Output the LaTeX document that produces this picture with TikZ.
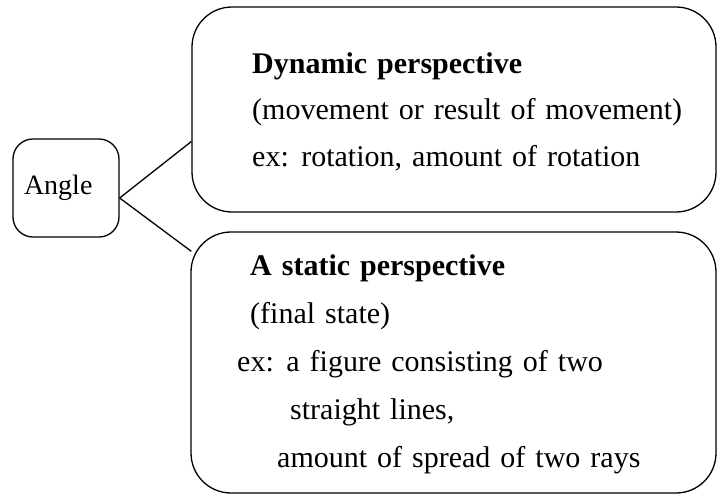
\documentclass[tikz,border=0pt]{standalone}
\usepackage{fontspec}
\setmainfont{Liberation Serif}
\usetikzlibrary{positioning}

\newcommand\widewords{\spaceskip=10pt plus 2pt minus 1pt\relax}

\tikzset{
  roundbox/.style={draw, line width=1.3pt, rounded corners=40pt, inner sep=0pt},
  boxtext/.style={align=left, inner sep=0pt, anchor=north west,
    font=\fontsize{30}{46.5}\selectfont, execute at begin node=\widewords},
  link/.style={line width=1.3pt},
}

\begin{document}
\begin{tikzpicture}[x=1pt,y=-1pt]
  \useasboundingbox (0,0) rectangle (720,496);
  % boxes
  \node[roundbox, minimum width=524pt, minimum height=205pt] (dyn) at (454,109.5) {};
  \node[roundbox, minimum width=525pt, minimum height=261pt] (stat) at (453.5,362.5) {};
  \node[roundbox, rounded corners=20pt, minimum width=106pt, minimum height=98pt,
    text width=84pt, align=left, font=\fontsize{28}{30}\selectfont] (angle) at (66,188) {Angle};
  % texts
  \node[boxtext] (dyntext) at (252,52) {\textbf{Dynamic perspective}\\
    (movement or result of movement)\\
    ex: rotation, amount of rotation};
  \node[boxtext, font=\fontsize{30}{48}\selectfont] (stattext) at (237,254) {\hspace*{13pt}\textbf{A static perspective}\\
    \hspace*{13pt}(final state)\\
    ex: a figure consisting of two\\
    \hspace*{53pt}straight lines,\\
    \hspace*{40pt}amount of spread of two rays};
  % connectors
  \draw[link] ([yshift=-10pt]angle.east) -- ([yshift=-32pt]dyn.west);
  \draw[link] ([yshift=-10pt]angle.east) -- ([xshift=1pt,yshift=-20pt]stat.north west);
\end{tikzpicture}
\end{document}
